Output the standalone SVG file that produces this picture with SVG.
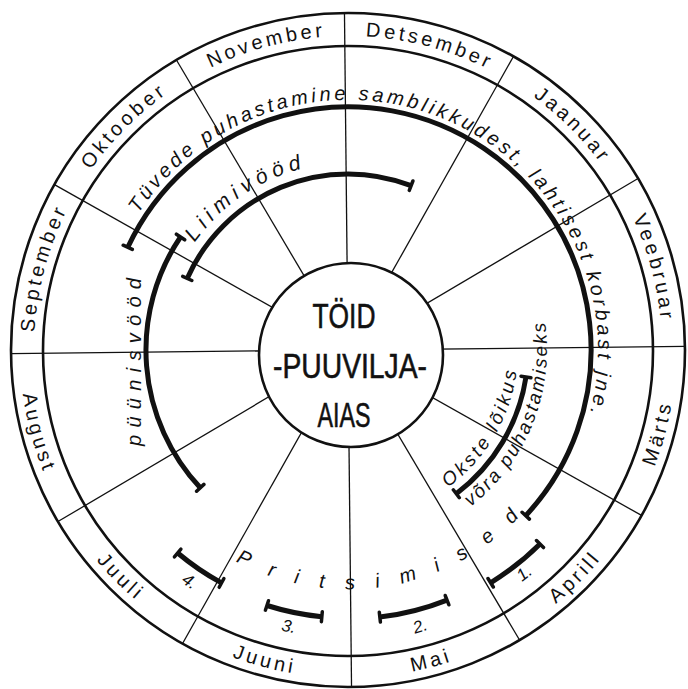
<svg xmlns="http://www.w3.org/2000/svg" width="688" height="689" viewBox="0 0 688 689">
<style>
.ln{fill:none;stroke:#111;stroke-width:2.6}
.sp{fill:none;stroke:#111;stroke-width:1.3}
.arc{fill:none;stroke:#111;stroke-width:5}
.tk{fill:none;stroke:#111;stroke-width:3.5;stroke-linecap:round}
.m{font-family:"Liberation Sans",Arial,sans-serif;font-size:20px;letter-spacing:3.5px;fill:#111}
.h{font-family:"Liberation Sans",Arial,sans-serif;font-style:italic;font-size:20px;fill:#111}
.n{font-family:"Liberation Sans",Arial,sans-serif;font-style:italic;font-size:17px;fill:#111;text-anchor:middle}
.ctr{font-family:"Liberation Sans",Arial,sans-serif;font-size:35px;fill:#111;stroke:#111;stroke-width:0.6;text-anchor:middle}
</style>
<defs>
<path id="pSep" d="M34,350 A314,314 0 0 1 76.1,193"/>
<path id="pOkt" d="M76.1,193 A314,314 0 0 1 191,78.1"/>
<path id="pNov" d="M191,78.1 A314,314 0 0 1 348,36"/>
<path id="pDet" d="M348,36 A314,314 0 0 1 505,78.1"/>
<path id="pJan" d="M505,78.1 A314,314 0 0 1 619.9,193"/>
<path id="pVee" d="M619.9,193 A314,314 0 0 1 662,350"/>
<path id="pMar" d="M632.1,514 A328,328 0 0 0 676,350"/>
<path id="pApr" d="M512,634.1 A328,328 0 0 0 632.1,514"/>
<path id="pMai" d="M348,678 A328,328 0 0 0 512,634.1"/>
<path id="pJuuni" d="M184,634.1 A328,328 0 0 0 348,678"/>
<path id="pJuuli" d="M63.9,514 A328,328 0 0 0 184,634.1"/>
<path id="pAug" d="M20,350 A328,328 0 0 0 63.9,514"/>
<path id="pTuv" d="M138.3,213.8 A250,250 0 0 1 582.9,435.5"/>
<path id="pLiim" d="M194.8,242.7 A187,187 0 0 1 331.7,163.7"/>
<path id="pOkste" d="M447.9,487.5 A170,170 0 0 0 518,350"/>
<path id="pVora" d="M470.5,506.8 A199,199 0 0 0 540.2,298.5"/>
<path id="pPrits" d="M235.8,561 A239,239 0 0 0 536.3,497.2"/>
</defs>
<rect width="688" height="689" fill="#fff"/>

<g id="rings">
<circle cx="348" cy="350" r="337" class="ln"/>
<circle cx="348" cy="351" r="305" class="ln"/>
</g>

<g id="spokes" class="sp" transform="rotate(-0.6 348 350)">
<path d="M348,13 L348,687"/>
<path d="M516.5,58.2 L179.5,641.8"/>
<path d="M639.8,181.5 L56.2,518.5"/>
<path d="M685,350 L11,350"/>
<path d="M639.8,518.5 L56.2,181.5"/>
<path d="M516.5,641.8 L179.5,58.2"/>
</g>

<g id="months" class="m">
<text><textPath href="#pSep" startOffset="50%" text-anchor="middle">September</textPath></text>
<text><textPath href="#pOkt" startOffset="50%" text-anchor="middle">Oktoober</textPath></text>
<text><textPath href="#pNov" startOffset="50%" text-anchor="middle">November</textPath></text>
<text><textPath href="#pDet" startOffset="50%" text-anchor="middle">Detsember</textPath></text>
<text><textPath href="#pJan" startOffset="50%" text-anchor="middle">Jaanuar</textPath></text>
<text><textPath href="#pVee" startOffset="50%" text-anchor="middle">Veebruar</textPath></text>
<text><textPath href="#pMar" startOffset="50%" text-anchor="middle">Märts</textPath></text>
<text><textPath href="#pApr" startOffset="50%" text-anchor="middle">Aprill</textPath></text>
<text><textPath href="#pMai" startOffset="50%" text-anchor="middle">Mai</textPath></text>
<text><textPath href="#pJuuni" startOffset="50%" text-anchor="middle">Juuni</textPath></text>
<text><textPath href="#pJuuli" startOffset="50%" text-anchor="middle">Juuli</textPath></text>
<text><textPath href="#pAug" startOffset="50%" text-anchor="middle">August</textPath></text>
</g>

<g id="center">
<circle cx="351" cy="355" r="92" fill="#fff" stroke="#111" stroke-width="2.6"/>
<text class="ctr" x="344" y="328" textLength="63" lengthAdjust="spacingAndGlyphs">TÖID</text>
<text class="ctr" x="350" y="378" textLength="154" lengthAdjust="spacingAndGlyphs">-PUUVILJA-</text>
<text class="ctr" x="344" y="427" textLength="53" lengthAdjust="spacingAndGlyphs">AIAS</text>
</g>

<g id="tuvede">
<path class="arc" d="M127.8,247.3 A243,243 0 1 1 525.7,515.7"/>
<path class="tk" d="M132.3,249.4 L123.2,245.2 M522.1,512.3 L529.4,519.1"/>
<text class="h" style="letter-spacing:3.5px"><textPath href="#pTuv">Tüvede puhastamine samblikkudest, lahtisest korbast jne.</textPath></text>
</g>

<g id="liimivood">
<path class="arc" d="M187.2,278.4 A176,176 0 0 1 411.1,185.7"/>
<path class="tk" d="M191.8,280.5 L182.7,276.4 M409.3,190.4 L412.9,181"/>
<text class="h" style="font-size:21px;letter-spacing:5.5px"><textPath href="#pLiim">Liimivööd</textPath></text>
</g>

<g id="puunisvood">
<path class="arc" d="M200.3,487.8 A202,202 0 0 1 180.5,237"/>
<path class="tk" d="M203.9,484.4 L196.6,491.2 M184.7,239.8 L176.4,234.2"/>
<text class="h" transform="translate(141,446) rotate(-90)" textLength="168" lengthAdjust="spacing">püünisvööd</text>
</g>

<g id="okste">
<path class="arc" d="M526,376.9 A180,180 0 0 1 456.3,493.7"/>
<path class="tk" d="M521,376.2 L530.9,377.7 M453.3,489.8 L459.3,497.7"/>
<text class="h" style="font-size:19px;letter-spacing:3.2px"><textPath href="#pOkste">Okste lõikus</textPath></text>
<text class="h" style="font-size:19px;letter-spacing:2.3px"><textPath href="#pVora">võra puhastamiseks</textPath></text>
</g>

<g id="pritsimised">
<text class="h" style="letter-spacing:21px"><textPath href="#pPrits">Pritsimised</textPath></text>
<path class="arc" d="M540,544 A273,273 0 0 1 490.6,582.8"/>
<path class="tk" d="M536.5,540.5 L543.5,547.6 M488,578.5 L493.3,587"/>
<text class="n" transform="translate(524,573) rotate(-38)" y="6">1.</text>
<path class="arc" d="M447,600.1 A269,269 0 0 1 379.8,617.1"/>
<path class="tk" d="M445.2,595.5 L448.9,604.8 M379.3,612.2 L380.4,622.1"/>
<text class="n" transform="translate(420,626) rotate(-17)" y="6">2.</text>
<path class="arc" d="M321.8,616.7 A268,268 0 0 1 267,605.5"/>
<path class="tk" d="M322.3,611.7 L321.4,621.7 M268.5,600.7 L265.4,610.2"/>
<text class="n" transform="translate(289,626) rotate(12)" y="6">3.</text>
<path class="arc" d="M221.5,582.9 A265,265 0 0 1 177.7,553"/>
<path class="tk" d="M223.9,578.5 L219.2,587.3 M180.9,549.2 L174.4,556.8"/>
<text class="n" transform="translate(190,581) rotate(34)" y="6">4.</text>
</g>
</svg>
